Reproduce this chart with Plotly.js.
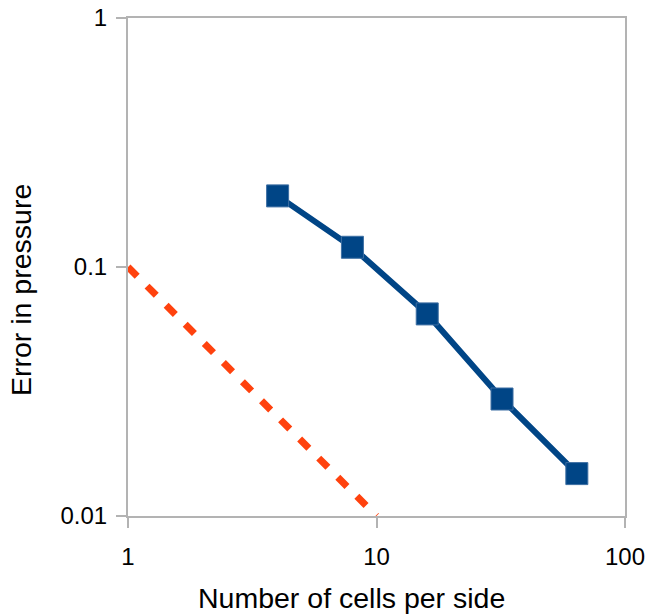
<!DOCTYPE html>
<html>
<head>
<meta charset="utf-8">
<script src="https://cdn.plot.ly/plotly-3.0.1.min.js"></script>
<style>html,body{margin:0;padding:0;background:#fff;}#chart{width:645px;height:615px;}</style>
</head>
<body>
<div id="chart"></div>
<script>
const cells = [4, 8, 16, 32, 64];
const errorPressure = [0.193, 0.12, 0.0648, 0.0295, 0.0148];
const refX = [1, 10];
const refY = [0.1, 0.01];
const xTickVals = [1, 10, 100];
const xTickText = ["1", "10", "100"];
const yTickVals = [0.01, 0.1, 1];
const yTickText = ["0.01", "0.1", "1"];
const xTitle = "Number of cells per side";
const yTitle = "Error in pressure";

const gray = "#b3b3b3";
const fam = "Liberation Sans, Arial, sans-serif";
const traces = [
  {
    x: refX, y: refY, mode: "lines", type: "scatter",
    line: {color: "#ff420e", width: 7, dash: "13px,14px"},
    hoverinfo: "skip", showlegend: false
  },
  {
    x: cells, y: errorPressure, mode: "lines+markers", type: "scatter",
    line: {color: "#004586", width: 6},
    marker: {symbol: "square", size: 22, color: "#004586", line: {color: "#3d6fa3", width: 1}},
    showlegend: false, cliponaxis: false
  }
];
const axisCommon = {
  type: "log", showgrid: false, zeroline: false, showline: true, mirror: true,
  linecolor: gray, linewidth: 2, ticks: "outside", ticklen: 10, tickwidth: 2, tickcolor: gray,
  tickmode: "array", ticklabeloverflow: "allow",
  tickfont: {family: fam, size: 24, color: "#000"}
};
const layout = {
  width: 645, height: 615,
  margin: {l: 128, r: 20, t: 18, b: 99},
  paper_bgcolor: "#fff", plot_bgcolor: "#fff",
  font: {family: fam, color: "#000"},
  xaxis: Object.assign({}, axisCommon, {
    range: [0, 2], tickvals: xTickVals, ticktext: xTickText, ticklabelstandoff: 8
  }),
  yaxis: Object.assign({}, axisCommon, {
    range: [-2, 0], tickvals: yTickVals, ticktext: yTickText, ticklabelstandoff: 4
  }),
  annotations: [
    {text: xTitle, xref: "paper", yref: "paper", x: 0.4487, y: -0.1647, borderpad: 0,
     xanchor: "center", yanchor: "middle", showarrow: false, font: {family: fam, size: 28.5, color: "#000"}},
    {text: yTitle, xref: "paper", yref: "paper", x: -0.2153, y: 0.4538, textangle: -90, borderpad: 0,
     xanchor: "center", yanchor: "middle", showarrow: false, font: {family: fam, size: 28.5, color: "#000"}}
  ]
};
Plotly.newPlot("chart", traces, layout, {staticPlot: true, displayModeBar: false});
</script>
</body>
</html>
